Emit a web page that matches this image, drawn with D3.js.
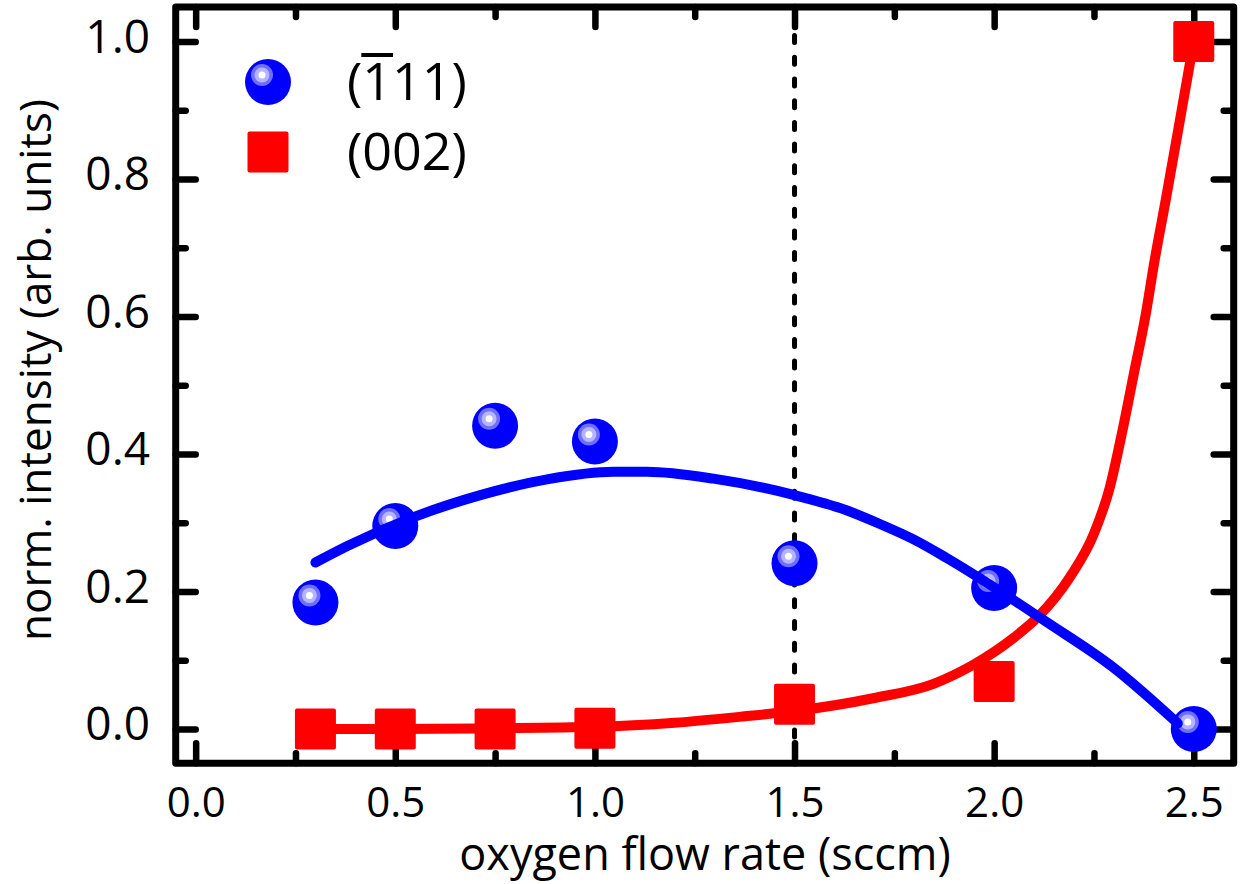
<!DOCTYPE html>
<html><head><meta charset="utf-8">
<script src="https://cdn.jsdelivr.net/npm/d3@7"></script>
<style>
body{margin:0;background:#fff;}
svg text{font-family:"Open Sans",sans-serif;fill:#000;}
</style></head><body>
<svg id="chart" width="1242" height="884"></svg>
<script>
// ---- data ----
const flowRate = [0.3, 0.5, 0.75, 1.0, 1.5, 2.0, 2.5];
const int111 = [0.184, 0.295, 0.441, 0.418, 0.241, 0.205, 0.0];
const int002 = [0.0, 0.0, 0.0, 0.001, 0.036, 0.069, 1.0];

const fit111X = [0.3, 0.38, 0.546, 0.713, 0.88, 1.047, 1.13, 1.297, 1.5, 1.63, 1.714, 1.797, 1.88, 1.997, 2.13, 2.297, 2.46];
const fit111Y = [0.242, 0.266, 0.308, 0.340, 0.363, 0.374, 0.374, 0.364, 0.340, 0.318, 0.298, 0.276, 0.249, 0.207, 0.156, 0.090, 0.008];

const fit002X = [0.3, 0.5, 0.75, 1.0, 1.2, 1.37, 1.5, 1.7, 1.85, 1.95, 2.05, 2.11, 2.19, 2.25, 2.29, 2.32, 2.35, 2.38, 2.40, 2.43, 2.46, 2.5];
const fit002Y = [0.0, 0.0, 0.001, 0.003, 0.009, 0.018, 0.026, 0.045, 0.066, 0.094, 0.133, 0.163, 0.221, 0.284, 0.352, 0.43, 0.517, 0.604, 0.675, 0.770, 0.868, 1.0];

const xMajor = [0, 0.5, 1.0, 1.5, 2.0, 2.5];
const xMinor = [0.25, 0.75, 1.25, 1.75, 2.25];
const xLabels = ["0.0", "0.5", "1.0", "1.5", "2.0", "2.5"];
const yMajor = [0, 0.2, 0.4, 0.6, 0.8, 1.0];
const yMinor = [0.1, 0.3, 0.5, 0.7, 0.9];
const yLabels = ["0.0", "0.2", "0.4", "0.6", "0.8", "1.0"];
const markerLine = 1.5;

const xTitle = "oxygen flow rate (sccm)";
const yTitle = "norm. intensity (arb. units)";

// ---- layout ----
const P = {left: 175.7, right: 1233.7, top: 7, bottom: 763.3};
const svg = d3.select("#chart");
const x = d3.scaleLinear().domain([-0.05, 2.6]).range([P.left, P.right]);
const y = d3.scaleLinear().domain([-0.05, 1.05]).range([P.bottom, P.top]);

const BLUE = "#0000ff", RED = "#ff0000";

// dashed vertical line
svg.append("line")
  .attr("x1", x(markerLine)).attr("x2", x(markerLine))
  .attr("y1", y(1.04)).attr("y2", y(-0.04))
  .attr("stroke", "#000").attr("stroke-width", 5)
  .attr("stroke-dasharray", "7 14.7").attr("stroke-linecap", "round");

// axes helper
function styleAxis(g, keepText) {
  g.select(".domain").remove();
  if (!keepText) g.selectAll(".tick text").remove();
  g.selectAll(".tick line").attr("stroke", "#000").attr("stroke-width", 6.5).attr("stroke-linecap", "round");
}
const MAJ = 20, MIN = 10;
// bottom
const gB = svg.append("g").attr("transform", `translate(0,${P.bottom})`)
  .call(d3.axisBottom(x).tickValues(xMajor).tickSize(-MAJ).tickFormat((d, i) => xLabels[i]));
styleAxis(gB, true);
gB.selectAll("text").attr("y", 54).attr("dy", null).attr("font-size", 42).attr("fill", "#000");
const gBm = svg.append("g").attr("transform", `translate(0,${P.bottom})`)
  .call(d3.axisBottom(x).tickValues(xMinor).tickSize(-MIN));
styleAxis(gBm, false);
// top
const gT = svg.append("g").attr("transform", `translate(0,${P.top})`)
  .call(d3.axisTop(x).tickValues(xMajor).tickSize(-MAJ));
styleAxis(gT, false);
const gTm = svg.append("g").attr("transform", `translate(0,${P.top})`)
  .call(d3.axisTop(x).tickValues(xMinor).tickSize(-MIN));
styleAxis(gTm, false);
// left
const gL = svg.append("g").attr("transform", `translate(${P.left},0)`)
  .call(d3.axisLeft(y).tickValues(yMajor).tickSize(-MAJ).tickFormat((d, i) => yLabels[i]));
styleAxis(gL, true);
gL.selectAll("text").attr("x", -25.7).attr("y", 11).attr("dy", null).attr("font-size", 46).attr("fill", "#000");
const gLm = svg.append("g").attr("transform", `translate(${P.left},0)`)
  .call(d3.axisLeft(y).tickValues(yMinor).tickSize(-MIN));
styleAxis(gLm, false);
// right
const gR = svg.append("g").attr("transform", `translate(${P.right},0)`)
  .call(d3.axisRight(y).tickValues(yMajor).tickSize(-MAJ));
styleAxis(gR, false);
const gRm = svg.append("g").attr("transform", `translate(${P.right},0)`)
  .call(d3.axisRight(y).tickValues(yMinor).tickSize(-MIN));
styleAxis(gRm, false);
svg.selectAll(".tick text").attr("font-family", "Open Sans, sans-serif");

// frame
svg.append("rect")
  .attr("x", P.left).attr("y", P.top)
  .attr("width", P.right - P.left).attr("height", P.bottom - P.top)
  .attr("fill", "none").attr("stroke", "#000").attr("stroke-width", 7)
  .attr("stroke-linejoin", "round");

// markers
const pts = flowRate.map((f, i) => ({x: f, a: int111[i], b: int002[i]}));
const SQ = 41;
svg.append("g").selectAll("rect").data(pts).join("rect")
  .attr("x", d => x(d.x) - SQ / 2).attr("y", d => y(d.b) - SQ / 2)
  .attr("width", SQ).attr("height", SQ).attr("rx", 2).attr("fill", RED);

function ball(g, cx, cy) {
  g.append("circle").attr("cx", cx).attr("cy", cy).attr("r", 23).attr("fill", BLUE);
  g.append("circle").attr("cx", cx - 6).attr("cy", cy - 7).attr("r", 11).attr("fill", "#6f6fff");
  g.append("circle").attr("cx", cx - 6).attr("cy", cy - 7).attr("r", 7.5).attr("fill", "#b4b4ff");
  g.append("circle").attr("cx", cx - 6).attr("cy", cy - 7).attr("r", 3.5).attr("fill", "#ffffff");
}
const gBalls = svg.append("g");
pts.forEach(d => ball(gBalls.append("g"), x(d.x), y(d.a)));

// fit lines
const line = d3.line().x(d => x(d[0])).y(d => y(d[1])).curve(d3.curveMonotoneX);
svg.append("path").datum(fit002X.map((v, i) => [v, fit002Y[i]]))
  .attr("d", line).attr("fill", "none").attr("stroke", RED).attr("stroke-width", 10)
  .attr("stroke-linecap", "round").attr("stroke-linejoin", "round");
svg.append("path").datum(fit111X.map((v, i) => [v, fit111Y[i]]))
  .attr("d", line).attr("fill", "none").attr("stroke", BLUE).attr("stroke-width", 10)
  .attr("stroke-linecap", "round").attr("stroke-linejoin", "round");

// legend
const gLeg = svg.append("g");
ball(gLeg, 268, 82);
gLeg.append("rect").attr("x", 268 - SQ / 2).attr("y", 152 - SQ / 2).attr("width", SQ).attr("height", SQ).attr("rx", 2).attr("fill", RED);
const t1 = gLeg.append("text").attr("x", 347).attr("y", 100).attr("font-size", 52);
t1.append("tspan").text("(");
t1.append("tspan").text("1");
t1.append("tspan").text("11)");
gLeg.append("text").attr("x", 347).attr("y", 170).attr("font-size", 52).text("(002)");
// overbar above the barred digit, placed from its measured glyph box
const bb = t1.node().getExtentOfChar(1);
gLeg.append("line").attr("x1", bb.x - 1).attr("x2", bb.x + bb.width + 1)
  .attr("y1", 55).attr("y2", 55).attr("stroke", "#000").attr("stroke-width", 4);

// axis titles
svg.append("text").attr("x", 705).attr("y", 870).attr("text-anchor", "middle")
  .attr("font-size", 45).text(xTitle);
svg.append("text").attr("transform", "translate(51,370) rotate(-90)").attr("text-anchor", "middle")
  .attr("font-size", 44).text(yTitle);
</script>
</body></html>
